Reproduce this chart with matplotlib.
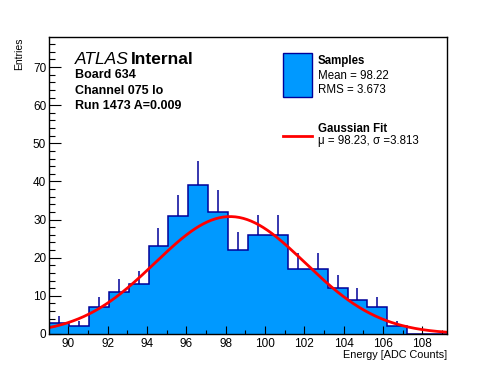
import numpy as np
import matplotlib
matplotlib.use("Agg")
import matplotlib.pyplot as plt
from matplotlib.ticker import MultipleLocator

# histogram data (20 bins)
bin_lo = 89.02
bin_hi = 109.26
counts = [3, 2, 7, 11, 13, 23, 31, 39, 32, 22, 26, 26, 17, 17, 12, 9, 7, 2, 0, 0]

# gaussian fit parameters
fit_const = 30.8
fit_mu = 98.23
fit_sigma = 3.813

info_lines = ["Board 634", "Channel 075 lo", "Run 1473 A=0.009"]

FILL = "#0099ff"
EDGE = "#000099"

plt.rcParams["font.family"] = ["Liberation Sans", "DejaVu Sans"]

W, H = 496, 372
fig = plt.figure(figsize=(W / 100, H / 100), dpi=100)
ax = fig.add_axes([49 / W, 1 - 334 / H, (447 - 49) / W, (334 - 37) / H])

counts = np.array(counts, dtype=float)
edges = np.linspace(bin_lo, bin_hi, len(counts) + 1)
centers = 0.5 * (edges[:-1] + edges[1:])

ax.stairs(counts, edges, fill=True, color=FILL, lw=0)
ax.stairs(counts, edges, fill=False, color=EDGE, lw=1.1)
nz = counts > 0
ax.vlines(centers[nz], counts[nz], counts[nz] + np.sqrt(counts[nz]), color=EDGE, lw=1.1)

xs = np.linspace(bin_lo, bin_hi, 300)
ax.plot(xs, fit_const * np.exp(-0.5 * ((xs - fit_mu) / fit_sigma) ** 2), color="red", lw=2)

ax.set_xlim(bin_lo, bin_hi)
ax.set_ylim(0, 77.9)
ax.xaxis.set_major_locator(MultipleLocator(2))
ax.xaxis.set_minor_locator(MultipleLocator(1))
ax.yaxis.set_major_locator(MultipleLocator(10))
ax.yaxis.set_minor_locator(MultipleLocator(2))
ax.tick_params(axis="both", which="both", direction="in", top=False, right=False,
               labelsize=8.5, width=0.8)
ax.tick_params(axis="y", which="major", length=8.5, pad=2)
ax.tick_params(axis="y", which="minor", length=4.3)
ax.tick_params(axis="x", which="major", length=5.8, pad=3)
ax.tick_params(axis="x", which="minor", length=3)
for s in ax.spines.values():
    s.set_linewidth(1)

def px(x, y, s, **kw):
    fig.text(x / W, 1 - y / H, s, **kw)

px(19, 37, "Entries", rotation=90, ha="center", va="top", fontsize=7.5)
px(447, 355, "Energy [ADC Counts]", ha="right", va="center", fontsize=7.8)

px(75, 59, "ATLAS", style="italic", fontsize=12.5, va="center")
px(131, 59, "Internal", weight="bold", fontsize=12.5, va="center")
for i, line in enumerate(info_lines):
    px(75, 75.5 + 15.3 * i, line, weight="bold", fontsize=9, va="center")

# legend
ax.add_patch(plt.Rectangle((283 / W, 1 - 97 / H), 29 / W, 44 / H, transform=fig.transFigure,
                           facecolor=FILL, edgecolor=EDGE, lw=1, clip_on=False))
fig.add_artist(plt.Line2D([283 / W, 312 / W], [1 - 136 / H, 1 - 136 / H], color="red", lw=2))
px(318, 61, "Samples", weight="bold", fontsize=8.3, va="center")
px(318, 76, "Mean = 98.22", fontsize=8.3, va="center")
px(318, 90, "RMS = 3.673", fontsize=8.3, va="center")
px(318, 129.5, "Gaussian Fit", weight="bold", fontsize=8.3, va="center")
px(318, 141, "\u03bc = 98.23, \u03c3 =3.813", fontsize=8.3, va="center")

fig.savefig("out.png", dpi=100)
